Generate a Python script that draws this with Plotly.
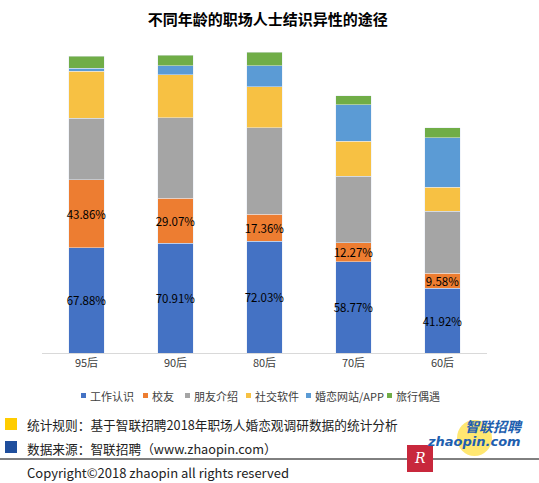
import plotly.graph_objects as go

# data (percent, stacked)
ages = ['95后', '90后', '80后', '70后', '60后']
series_names = ['工作认识', '校友', '朋友介绍', '社交软件', '婚恋网站/APP', '旅行偶遇']
work = [67.88, 70.91, 72.03, 58.77, 41.92]
alumni = [43.86, 29.07, 17.36, 12.27, 9.58]
friends = [39.8, 51.8, 55.9, 43.0, 40.0]
social_app = [30.3, 27.7, 26.6, 22.6, 15.3]
dating_site = [2.0, 6.0, 13.3, 23.4, 32.0]
travel = [7.5, 6.7, 9.0, 5.8, 6.5]

colors = ['#4472C4', '#ED7D31', '#A5A5A5', '#F7C143', '#5B9BD5', '#70AD47']
values = [work, alumni, friends, social_app, dating_site, travel]
# left edge (px) of each legend entry marker
legend_px = [81, 143, 185, 246, 306, 387]

FONT = 'Noto Sans CJK SC'
W, H = 539, 483
ML, MR, MT, MB = 42, 52, 43, 130
PW, PH = W - ML - MR, H - MT - MB

# pixel -> paper helpers, for legend/footer decorations only
def px(x):
    return (x - ML) / PW

def py(y):
    return (H - MB - y) / PH

fig = go.Figure()
for i in range(len(series_names)):
    labelled = i < 2
    fig.add_trace(go.Bar(
        x=ages, y=values[i], name=series_names[i], marker_color=colors[i],
        width=0.4, showlegend=False, constraintext='none',
        text=[f'{v:.2f}%' for v in values[i]] if labelled else None,
        textposition='inside' if labelled else 'none',
        insidetextanchor='middle', textangle=0,
        textfont=dict(family=FONT, size=11.5, color='#000000'),
    ))

fig.update_layout(
    width=W, height=H,
    margin=dict(l=ML, r=MR, t=MT, b=MB, autoexpand=False),
    barmode='stack',
    showlegend=False,
    plot_bgcolor='white', paper_bgcolor='white',
    font=dict(family=FONT, size=11, color='#404040'),
    title=dict(text='<b>不同年龄的职场人士结识异性的途径</b>', x=px(263), xanchor='center',
               y=1 - 20 / H, yanchor='middle', font=dict(size=15, color='#000000')),
    xaxis=dict(showline=True, linecolor='#D9D9D9', linewidth=1, ticks='',
               tickfont=dict(size=11, color='#404040'), showgrid=False),
    yaxis=dict(range=[0, 200], visible=False, showgrid=False),
)

# legend row
for i in range(len(series_names)):
    x0 = legend_px[i]
    fig.add_shape(type='rect', xref='paper', yref='paper', x0=px(x0), x1=px(x0 + 5),
                  y0=py(398), y1=py(393), fillcolor=colors[i], line_width=0)
    fig.add_annotation(xref='paper', yref='paper', x=px(x0 + 7), y=py(395.5), xanchor='left',
                       yanchor='middle', text=series_names[i], showarrow=False,
                       font=dict(size=11, color='#404040'))

# footer notes
fig.add_shape(type='rect', xref='paper', yref='paper', x0=px(5), x1=px(17), y0=py(430), y1=py(418),
              fillcolor='#FFCC00', line_width=0)
fig.add_shape(type='rect', xref='paper', yref='paper', x0=px(5), x1=px(17), y0=py(453), y1=py(441),
              fillcolor='#1F4E9C', line_width=0)
fig.add_annotation(xref='paper', yref='paper', x=px(25), y=py(424), xanchor='left', yanchor='middle',
                   text='统计规则：基于智联招聘2018年职场人婚恋观调研数据的统计分析', showarrow=False,
                   font=dict(size=12.7, color='#222222'))
fig.add_annotation(xref='paper', yref='paper', x=px(25), y=py(448), xanchor='left', yanchor='middle',
                   text='数据来源：智联招聘（www.zhaopin.com）', showarrow=False,
                   font=dict(size=12.7, color='#222222'))
fig.add_shape(type='line', xref='paper', yref='paper', x0=px(0), x1=px(539), y0=py(459), y1=py(459),
              line=dict(color='#000000', width=1))
fig.add_annotation(xref='paper', yref='paper', x=px(25), y=py(472), xanchor='left', yanchor='middle',
                   text='Copyright©2018 zhaopin all rights reserved', showarrow=False,
                   font=dict(size=13, color='#222222'))

# logo
fig.add_shape(type='circle', xref='paper', yref='paper', x0=px(457), x1=px(492), y0=py(456), y1=py(420),
              fillcolor='#FFE14D', line_width=0, opacity=0.8)
fig.add_annotation(xref='paper', yref='paper', x=px(494), y=py(426), xanchor='center', yanchor='middle',
                   text='<b><i>智联招聘</i></b>', showarrow=False, font=dict(size=14, color='#1F5FAF'))
fig.add_annotation(xref='paper', yref='paper', x=px(474), y=py(441), xanchor='center', yanchor='middle',
                   text='<b><i>zhaopin.com</i></b>', showarrow=False,
                   font=dict(family='DejaVu Sans', size=13, color='#1F5FAF'))
fig.add_shape(type='rect', xref='paper', yref='paper', x0=px(407), x1=px(433), y0=py(472), y1=py(445),
              fillcolor='#C8283C', line_width=0)
fig.add_annotation(xref='paper', yref='paper', x=px(420), y=py(458), xanchor='center', yanchor='middle',
                   text='<i>R</i>', showarrow=False, font=dict(family='DejaVu Serif', size=14, color='white'))

# drop the default page margin so the figure sits at the window's corner
fig.write_html('out.html', config={'displayModeBar': False},
               post_script="document.body.style.margin='0';")
